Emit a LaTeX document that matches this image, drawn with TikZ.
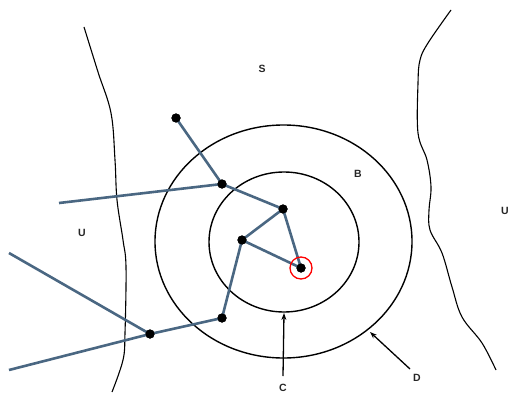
\documentclass[tikz,border=0pt]{standalone}
\usepackage{fontspec}
\setmainfont{Liberation Sans}
\usetikzlibrary{arrows.meta}
\definecolor{linkc}{HTML}{4A6782}
\begin{document}
\begin{tikzpicture}[x=1pt,y=-1pt,
  lbl/.style={font=\bfseries\fontsize{10.5}{11}\selectfont, text=black!85, inner sep=0pt},
  dot/.style={circle, fill=black, inner sep=0pt, minimum size=9pt},
  link/.style={draw=linkc, line width=2.6pt},
  bnd/.style={draw=black, line width=1.1pt},
  ring/.style={draw=black, line width=1.4pt},
  pointer/.style={draw=black, line width=1.3pt, -{Stealth[length=7pt,width=5pt]}}]
\useasboundingbox (0,0) rectangle (510,393);
% boundaries
\draw[bnd] plot[smooth, tension=0.6] coordinates {(84,27) (98,72) (111,113) (115,160) (117,200) (123,240) (126,267) (125,333) (123,360) (112,392)};
\draw[bnd] plot[smooth, tension=0.6] coordinates {(451,10) (428,43) (420,60) (418,83) (418,133) (427,160) (431,187) (429,210) (430,230) (442,253) (452,287) (462,317) (482,343) (496,370)};
% rings
\draw[ring] (283.5,241.5) ellipse [x radius=128.5, y radius=116.5];
\draw[ring] (284,242) ellipse [x radius=75, y radius=70];
% points
\node[dot] (p1) at (176,118) {};
\node[dot] (p2) at (222,184) {};
\node[dot] (p3) at (283,209) {};
\node[dot] (p4) at (242,240) {};
\node[dot] (p5) at (301,268) {};
\node[dot] (p6) at (222,318) {};
\node[dot] (p7) at (150,334) {};
\coordinate (e1) at (59,203);
\coordinate (e2) at (9,253);
\coordinate (e3) at (9,370);
\draw[link] (p1.center) -- (p2.center);
\draw[link] (p2.center) -- (p3.center);
\draw[link] (e1) -- (p2.center);
\draw[link] (p3.center) -- (p4.center);
\draw[link] (p4.center) -- (p5.center);
\draw[link] (p3.center) -- (p5.center);
\draw[link] (p4.center) -- (p6.center);
\draw[link] (p6.center) -- (p7.center);
\draw[link] (e2) -- (p7.center);
\draw[link] (e3) -- (p7.center);
\foreach \p in {p1,p2,p3,p4,p5,p6,p7} \fill (\p) circle (4.6);
\draw[red, line width=1.3pt] (p5) circle (11);
% labels
\node[lbl] (S) at (262,69) {S};
\node[lbl] (B) at (358,174) {B};
\node[lbl] (U1) at (82,233) {U};
\node[lbl] (U2) at (505,211) {U};
\node[lbl] (C) at (283,388) {C};
\node[lbl] (D) at (417,378) {D};
\coordinate (ct) at (284,313);
\coordinate (dt) at (370,332);
\coordinate (cs) at (283,376);
\coordinate (ds) at (410,369);
\draw[pointer] (cs) -- (ct);
\draw[pointer] (ds) -- (dt);
\end{tikzpicture}
\end{document}
